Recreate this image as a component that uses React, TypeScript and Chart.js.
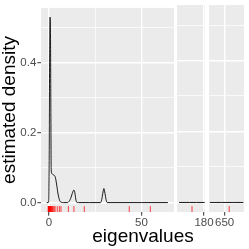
import React, { useEffect, useRef } from "react";
import { Chart, registerables } from "chart.js";
Chart.register(...registerables);

// ---- data ----
const yTickValues = [0, 0.1, 0.2, 0.3, 0.4, 0.5];
const yTickLabels = ["0.0", "", "0.2", "", "0.4", ""];

const panel1TickValues = [0, 25, 50];
const panel1TickLabels = ["0", "", "50"];
const panel2TickValues = [180];
const panel2TickLabels = ["180"];
const panel3TickValues = [650];
const panel3TickLabels = ["650"];

const panel1Range = [-4.3, 67.6];
const panel2Range = [165.4, 180.5];
const panel3Range = [640.8, 661.4];
const yRange = [-0.0269, 0.5564];

const density1X = [-1.2, -0.5, -0.15, 0.1, 0.35, 0.6, 0.8, 1.0, 1.2, 1.5, 2.0, 2.7, 3.3, 3.7, 4.2, 4.9, 5.8, 6.6, 8, 10.0, 10.8, 11.4, 12.0, 12.6, 13.1, 13.5, 14.0, 14.5, 15.0, 16, 22, 27.9, 28.5, 29.1, 29.7, 30.3, 30.9, 31.5, 40, 50, 64.3];
const density1Y = [0, 0, 0.005, 0.12, 0.4, 0.53, 0.5, 0.3, 0.1, 0.083, 0.081, 0.078, 0.075, 0.066, 0.05, 0.025, 0.006, 0.001, 0, 0, 0.003, 0.008, 0.016, 0.026, 0.033, 0.036, 0.028, 0.01, 0.001, 0, 0, 0, 0.008, 0.026, 0.04, 0.026, 0.008, 0, 0, 0, 0];
const density2X = [166.5, 172, 176, 180.3];
const density2Y = [0, 0, 0, 0];
const density3X = [641.3, 648, 655, 661.0];
const density3Y = [0, 0, 0, 0];

const rug1 = [-0.4, -0.3, -0.2, -0.1, 0, 0.05, 0.1, 0.2, 0.3, 0.4, 0.5, 0.7, 0.9, 1.1, 1.3, 1.6, 1.9, 2.3, 2.8, 3.3, 4.5, 5.6, 6.5, 10.5, 13.5, 19.1, 43.4, 54.8];
const rug2 = [173.5];
const rug3 = [652.7];
const rugLevel = -0.0186;

const FONT = '"Liberation Sans", Arial, Helvetica, sans-serif';

const bgPlugin = {
  id: "panelBg",
  beforeDraw(chart: any) {
    const { ctx, chartArea } = chart;
    ctx.save();
    ctx.fillStyle = "#EBEBEB";
    ctx.fillRect(chartArea.left, chartArea.top, chartArea.right - chartArea.left, chartArea.bottom - chartArea.top);
    ctx.restore();
  },
};

type PanelSpec = {
  left: number;
  right: number;
  showY: boolean;
  range: number[];
  tickValues: number[];
  tickLabels: string[];
  dx: number[];
  dy: number[];
  rug: number[];
};

function makeConfig(p: PanelSpec): any {
  return {
    type: "line",
    data: {
      datasets: [
        {
          type: "line",
          data: p.dx.map((x, i) => ({ x, y: p.dy[i] })),
          borderColor: "#1a1a1a",
          borderWidth: 1,
          pointRadius: 0,
          cubicInterpolationMode: "monotone",
          fill: false,
        },
        {
          type: "scatter",
          data: p.rug.map((x) => ({ x, y: rugLevel })),
          pointStyle: "line",
          rotation: 90,
          pointRadius: 3,
          borderColor: "rgba(255,0,0,0.75)",
          borderWidth: 1,
          showLine: false,
        },
      ],
    },
    options: {
      responsive: false,
      animation: false,
      events: [],
      layout: { padding: { left: p.left, right: 249 - p.right, top: 2, bottom: 0 } },
      plugins: { legend: { display: false }, tooltip: { enabled: false } },
      scales: {
        x: {
          type: "linear",
          min: p.range[0],
          max: p.range[1],
          afterBuildTicks: (s: any) => {
            s.ticks = p.tickValues.map((v) => ({ value: v }));
          },
          afterFit: (s: any) => {
            s.height = 37;
          },
          border: { display: false },
          grid: {
            color: "#FFFFFF",
            lineWidth: (c: any) => (p.tickLabels[c.index] === "" ? 0.7 : 1.4),
            tickColor: (c: any) => (p.tickLabels[c.index] === "" ? "rgba(0,0,0,0)" : "#333333"),
            tickWidth: 1,
            tickLength: 3.7,
          },
          ticks: {
            autoSkip: false,
            maxRotation: 0,
            padding: 0,
            color: "#4D4D4D",
            font: { family: FONT, size: 11.5 },
            callback: (_v: any, i: number) => p.tickLabels[i],
          },
        },
        y: {
          type: "linear",
          min: yRange[0],
          max: yRange[1],
          afterBuildTicks: (s: any) => {
            s.ticks = yTickValues.map((v) => ({ value: v }));
          },
          afterFit: (s: any) => {
            s.width = p.showY ? 41 : 0;
          },
          border: { display: false },
          title: {
            display: p.showY,
            text: "estimated density",
            color: "#000000",
            font: { family: FONT, size: 19, lineHeight: 1 },
            padding: { top: 0, bottom: 0 },
          },
          grid: {
            color: "#FFFFFF",
            lineWidth: (c: any) => (yTickLabels[c.index] === "" ? 0.7 : 1.4),
            tickColor: (c: any) => (yTickLabels[c.index] === "" || !p.showY ? "rgba(0,0,0,0)" : "#333333"),
            tickWidth: 1,
            tickLength: p.showY ? 3.7 : 0,
            drawTicks: p.showY,
          },
          ticks: {
            display: p.showY,
            autoSkip: false,
            padding: 1,
            color: "#4D4D4D",
            font: { family: FONT, size: 11.5 },
            callback: (_v: any, i: number) => yTickLabels[i],
          },
        },
      },
    },
    plugins: [bgPlugin],
  };
}

const panels: PanelSpec[] = [
  { left: 0, right: 174, showY: true, range: panel1Range, tickValues: panel1TickValues, tickLabels: panel1TickLabels, dx: density1X, dy: density1Y, rug: rug1 },
  { left: 177, right: 205, showY: false, range: panel2Range, tickValues: panel2TickValues, tickLabels: panel2TickLabels, dx: density2X, dy: density2Y, rug: rug2 },
  { left: 209, right: 247, showY: false, range: panel3Range, tickValues: panel3TickValues, tickLabels: panel3TickLabels, dx: density3X, dy: density3Y, rug: rug3 },
];

export default function App() {
  const r1 = useRef<HTMLCanvasElement>(null);
  const r2 = useRef<HTMLCanvasElement>(null);
  const r3 = useRef<HTMLCanvasElement>(null);

  useEffect(() => {
    const refs = [r1, r2, r3];
    const charts = panels.map((p, i) => new Chart(refs[i].current as HTMLCanvasElement, makeConfig(p)));
    return () => charts.forEach((c) => c.destroy());
  }, []);

  const cstyle: React.CSSProperties = { position: "absolute", left: 0, top: 0, width: 249, height: 249 };
  return (
    <div style={{ position: "absolute", left: 0, top: 0, width: 249, height: 249, background: "#FFFFFF", overflow: "hidden" }}>
      <canvas ref={r1} width={249} height={249} style={cstyle} />
      <canvas ref={r2} width={249} height={249} style={cstyle} />
      <canvas ref={r3} width={249} height={249} style={cstyle} />
      <div
        style={{
          position: "absolute",
          left: 43,
          width: 200,
          top: 226,
          textAlign: "center",
          fontFamily: FONT,
          fontSize: 19,
          lineHeight: "19px",
          color: "#000000",
          whiteSpace: "nowrap",
        }}
      >
        eigenvalues
      </div>
    </div>
  );
}
